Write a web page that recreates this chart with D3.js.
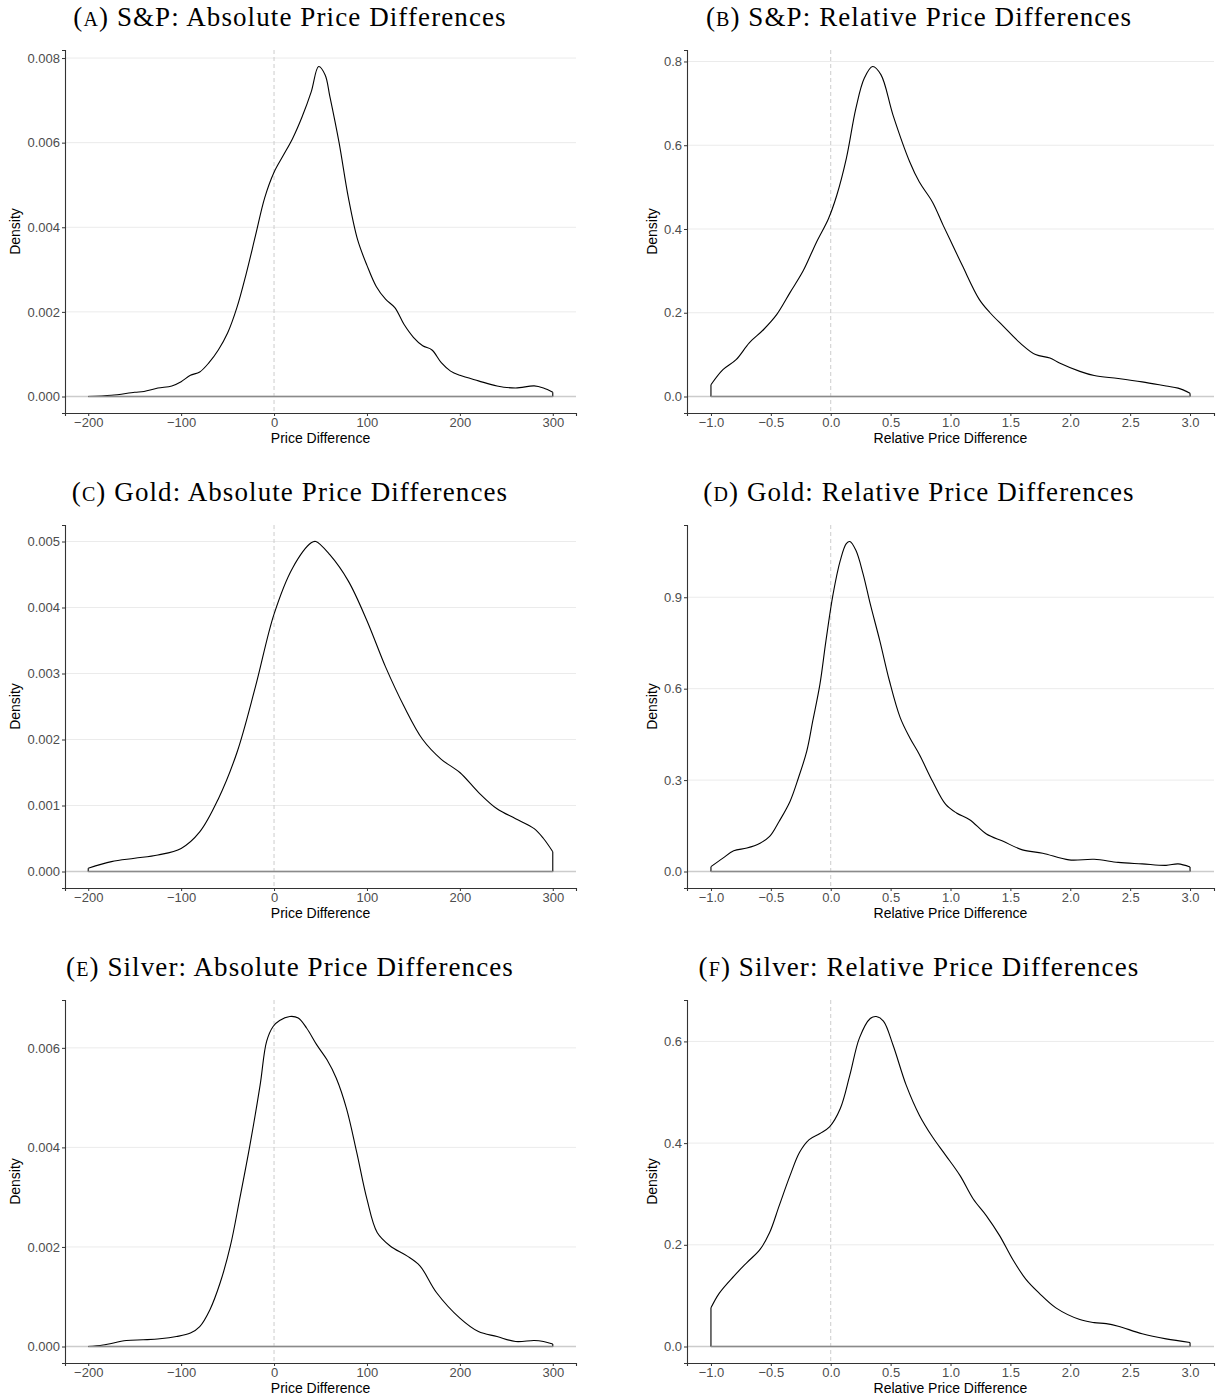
<!DOCTYPE html>
<html>
<head>
<meta charset="utf-8">
<script src="https://cdn.jsdelivr.net/npm/d3@7"></script>
<style>
  body { margin: 0; background: #fff; }
  svg { display: block; }
  .tick text { font-family: "Liberation Sans", Arial, sans-serif; font-size: 13px; fill: #4d4d4d; }
  .axis-title { font-family: "Liberation Sans", Arial, sans-serif; font-size: 14px; fill: #000; }
  .title { font-family: "Liberation Serif", "Times New Roman", serif; font-size: 27px; letter-spacing: 1.1px; fill: #000; }
</style>
</head>
<body>
<svg width="1225" height="1397"></svg>
<script>
// S&P absolute
const spAbsX = [-200,-175,-150,-140,-125,-110,-100,-90,-80,-70,-60,-50,-40,-30,-20,-10,0,10,20,30,40,48,55,60,70,80,90,100,110,120,130,140,150,160,170,180,190,200,220,240,260,280,290,300];
const spAbsY = [0,0.00003,0.0001,0.00012,0.0002,0.00025,0.00035,0.0005,0.00058,0.0008,0.0011,0.0015,0.0021,0.0029,0.0038,0.0047,0.0053,0.0057,0.0061,0.0066,0.0072,0.0078,0.0076,0.0071,0.006,0.0047,0.0037,0.0031,0.0026,0.0023,0.0021,0.0017,0.0014,0.0012,0.0011,0.0008,0.0006,0.0005,0.00037,0.00025,0.0002,0.00025,0.0002,0.0001];

// S&P relative
const spRelX = [-1,-0.9,-0.79,-0.68,-0.56,-0.45,-0.34,-0.23,-0.12,-0.02,0.05,0.13,0.21,0.28,0.35,0.42,0.52,0.66,0.74,0.85,0.94,1.02,1.1,1.24,1.33,1.44,1.58,1.71,1.83,1.91,2.08,2.2,2.4,2.6,2.8,2.9,3];
const spRelY = [0.028,0.064,0.088,0.128,0.16,0.196,0.248,0.3,0.368,0.424,0.48,0.568,0.688,0.76,0.788,0.768,0.672,0.56,0.512,0.464,0.408,0.36,0.312,0.232,0.2,0.168,0.128,0.1,0.092,0.08,0.06,0.05,0.043,0.035,0.025,0.02,0.008];

// Gold absolute
const goldAbsX = [-200,-175,-150,-125,-100,-80,-60,-40,-20,0,20,40,45,60,80,100,120,140,160,180,200,220,240,260,280,290,300];
const goldAbsY = [0.00005,0.00015,0.0002,0.00025,0.00035,0.0006,0.0011,0.0018,0.0028,0.0039,0.0046,0.00498,0.005,0.0048,0.0044,0.0038,0.0031,0.0025,0.002,0.0017,0.0015,0.0012,0.00095,0.0008,0.00065,0.0005,0.0003];

// Gold relative
const goldRelX = [-1,-0.9,-0.81,-0.7,-0.59,-0.51,-0.43,-0.34,-0.27,-0.2,-0.15,-0.09,-0.04,0.02,0.08,0.13,0.16,0.21,0.27,0.33,0.41,0.49,0.58,0.66,0.74,0.85,0.96,1.05,1.16,1.3,1.44,1.6,1.77,1.99,2.2,2.4,2.6,2.8,2.9,3];
const goldRelY = [0.016,0.044,0.068,0.077,0.093,0.115,0.165,0.23,0.307,0.395,0.494,0.615,0.757,0.911,1.021,1.076,1.083,1.054,0.977,0.878,0.757,0.626,0.505,0.439,0.384,0.296,0.22,0.192,0.17,0.123,0.099,0.071,0.06,0.038,0.04,0.03,0.025,0.02,0.025,0.015];

// Silver absolute
const silverAbsX = [-200,-184,-159,-141,-123,-105,-90,-80,-69,-58,-47,-37,-26,-15,-8,-1,6,17,26,35,46,57,67,78,89,100,111,125,143,157,175,200,220,240,260,280,290,300];
const silverAbsY = [0,0.00003,0.00012,0.000135,0.000155,0.0002,0.00027,0.0004,0.00074,0.00128,0.00202,0.00296,0.00404,0.00525,0.00613,0.00643,0.00655,0.00663,0.0066,0.0064,0.00606,0.00576,0.00539,0.00478,0.0039,0.00296,0.00229,0.00202,0.00182,0.00162,0.00108,0.00057,0.0003,0.0002,0.0001,0.00012,0.0001,0.00005];

// Silver relative
const silverRelX = [-1,-0.93,-0.81,-0.7,-0.59,-0.51,-0.43,-0.34,-0.26,-0.18,-0.09,-0.01,0.08,0.16,0.24,0.33,0.38,0.44,0.52,0.63,0.74,0.85,0.96,1.08,1.19,1.3,1.41,1.52,1.63,1.74,1.88,2.08,2.2,2.3,2.4,2.6,2.8,3];
const silverRelY = [0.076,0.105,0.138,0.165,0.191,0.224,0.277,0.336,0.382,0.407,0.419,0.432,0.468,0.534,0.607,0.645,0.649,0.64,0.593,0.514,0.455,0.412,0.376,0.336,0.29,0.257,0.218,0.171,0.132,0.105,0.076,0.053,0.047,0.045,0.04,0.025,0.015,0.008];

const absTicks = [-200, -100, 0, 100, 200, 300];
const relTicks = [-1, -0.5, 0, 0.5, 1, 1.5, 2, 2.5, 3];

const panels = [
  { letter: "A", title: "S&P: Absolute Price Differences", xs: spAbsX, ys: spAbsY, col: 0, row: 0, yTicks: [0, 0.002, 0.004, 0.006, 0.008] },
  { letter: "B", title: "S&P: Relative Price Differences", xs: spRelX, ys: spRelY, col: 1, row: 0, yTicks: [0, 0.2, 0.4, 0.6, 0.8] },
  { letter: "C", title: "Gold: Absolute Price Differences", xs: goldAbsX, ys: goldAbsY, col: 0, row: 1, yTicks: [0, 0.001, 0.002, 0.003, 0.004, 0.005] },
  { letter: "D", title: "Gold: Relative Price Differences", xs: goldRelX, ys: goldRelY, col: 1, row: 1, yTicks: [0, 0.3, 0.6, 0.9] },
  { letter: "E", title: "Silver: Absolute Price Differences", xs: silverAbsX, ys: silverAbsY, col: 0, row: 2, yTicks: [0, 0.002, 0.004, 0.006] },
  { letter: "F", title: "Silver: Relative Price Differences", xs: silverRelX, ys: silverRelY, col: 1, row: 2, yTicks: [0, 0.2, 0.4, 0.6] }
];

const cols = [
  { left: 65, right: 576, titleX: 290, domain: [-225, 325], ticks: absTicks, fmt: d3.format("d"), label: "Price Difference", yFmt: d3.format(".3f") },
  { left: 687, right: 1214, titleX: 919, domain: [-1.2, 3.2], ticks: relTicks, fmt: d3.format(".1f"), label: "Relative Price Difference", yFmt: d3.format(".1f") }
];
const rowTop = [50, 525, 1000];
const plotH = 363;

const svg = d3.select("svg");

panels.forEach(p => {
  const c = cols[p.col];
  const top = rowTop[p.row];
  const bottom = top + plotH;
  const pts = p.xs.map((x, i) => [x, p.ys[i]]);
  const ymax = d3.max(p.ys);

  const x = d3.scaleLinear().domain(c.domain).range([c.left, c.right]);
  const y = d3.scaleLinear().domain([-0.05 * ymax, 1.05 * ymax]).range([bottom, top]);

  const g = svg.append("g");

  // grid
  g.selectAll(".grid")
    .data(p.yTicks.filter(t => t !== 0))
    .join("line")
    .attr("x1", c.left).attr("x2", c.right)
    .attr("y1", d => y(d)).attr("y2", d => y(d))
    .attr("stroke", "#ebebeb").attr("stroke-width", 1);

  // zero lines
  g.append("line")
    .attr("x1", c.left).attr("x2", c.right)
    .attr("y1", y(0)).attr("y2", y(0))
    .attr("stroke", "#cccccc").attr("stroke-width", 1.3);
  g.append("line")
    .attr("x1", x(0)).attr("x2", x(0))
    .attr("y1", top).attr("y2", bottom)
    .attr("stroke", "#cccccc").attr("stroke-width", 1)
    .attr("stroke-dasharray", "4,3");

  // DENSITY
  const first = pts[0], last = pts[pts.length - 1];
  const straight = d3.line().x(d => x(d[0])).y(d => y(d[1]));
  g.append("path")
    .attr("d", d3.line().x(d => x(d[0])).y(d => y(d[1])).curve(d3.curveCatmullRom)(pts))
    .attr("fill", "none").attr("stroke", "#000").attr("stroke-width", 1.1);
  g.append("path")
    .attr("d", straight([[first[0], 0], first]))
    .attr("stroke", "#000").attr("stroke-width", 1.1);
  g.append("path")
    .attr("d", straight([last, [last[0], 0]]))
    .attr("stroke", "#000").attr("stroke-width", 1.1);
  g.append("line")
    .attr("x1", x(first[0])).attr("x2", x(last[0]))
    .attr("y1", y(0)).attr("y2", y(0))
    .attr("stroke", "#8a8a8a").attr("stroke-width", 1.3);

  // AXES
  const xAxis = g.append("g")
    .attr("transform", `translate(0,${bottom})`)
    .call(d3.axisBottom(x).tickValues(c.ticks).tickFormat(c.fmt).tickSizeOuter(0).tickSize(3).tickPadding(2));
  const yAxis = g.append("g")
    .attr("transform", `translate(${c.left},0)`)
    .call(d3.axisLeft(y).tickValues(p.yTicks).tickFormat(c.yFmt).tickSizeOuter(0).tickSize(3).tickPadding(2));
  [xAxis, yAxis].forEach(a => {
    a.select(".domain").attr("stroke", "#333").attr("stroke-width", 1.1);
    a.selectAll(".tick line").attr("stroke", "#333");
    a.selectAll(".tick text").attr("font-family", null).attr("font-size", null);
  });

  g.append("text")
    .attr("class", "axis-title")
    .attr("x", (c.left + c.right) / 2)
    .attr("y", bottom + 30)
    .attr("text-anchor", "middle")
    .text(c.label);

  const labelLeft = yAxis.node().getBBox().x + c.left;
  g.append("text")
    .attr("class", "axis-title")
    .attr("transform", `translate(${labelLeft - 7},${(top + bottom) / 2}) rotate(-90)`)
    .attr("text-anchor", "middle")
    .text("Density");

  // TITLE
  const t = g.append("text")
    .attr("class", "title")
    .attr("x", c.titleX)
    .attr("y", top - 24)
    .attr("text-anchor", "middle");
  t.append("tspan").text("(");
  t.append("tspan").attr("font-size", "20px").text(p.letter);
  t.append("tspan").text(") " + p.title);
});
</script>
</body>
</html>
